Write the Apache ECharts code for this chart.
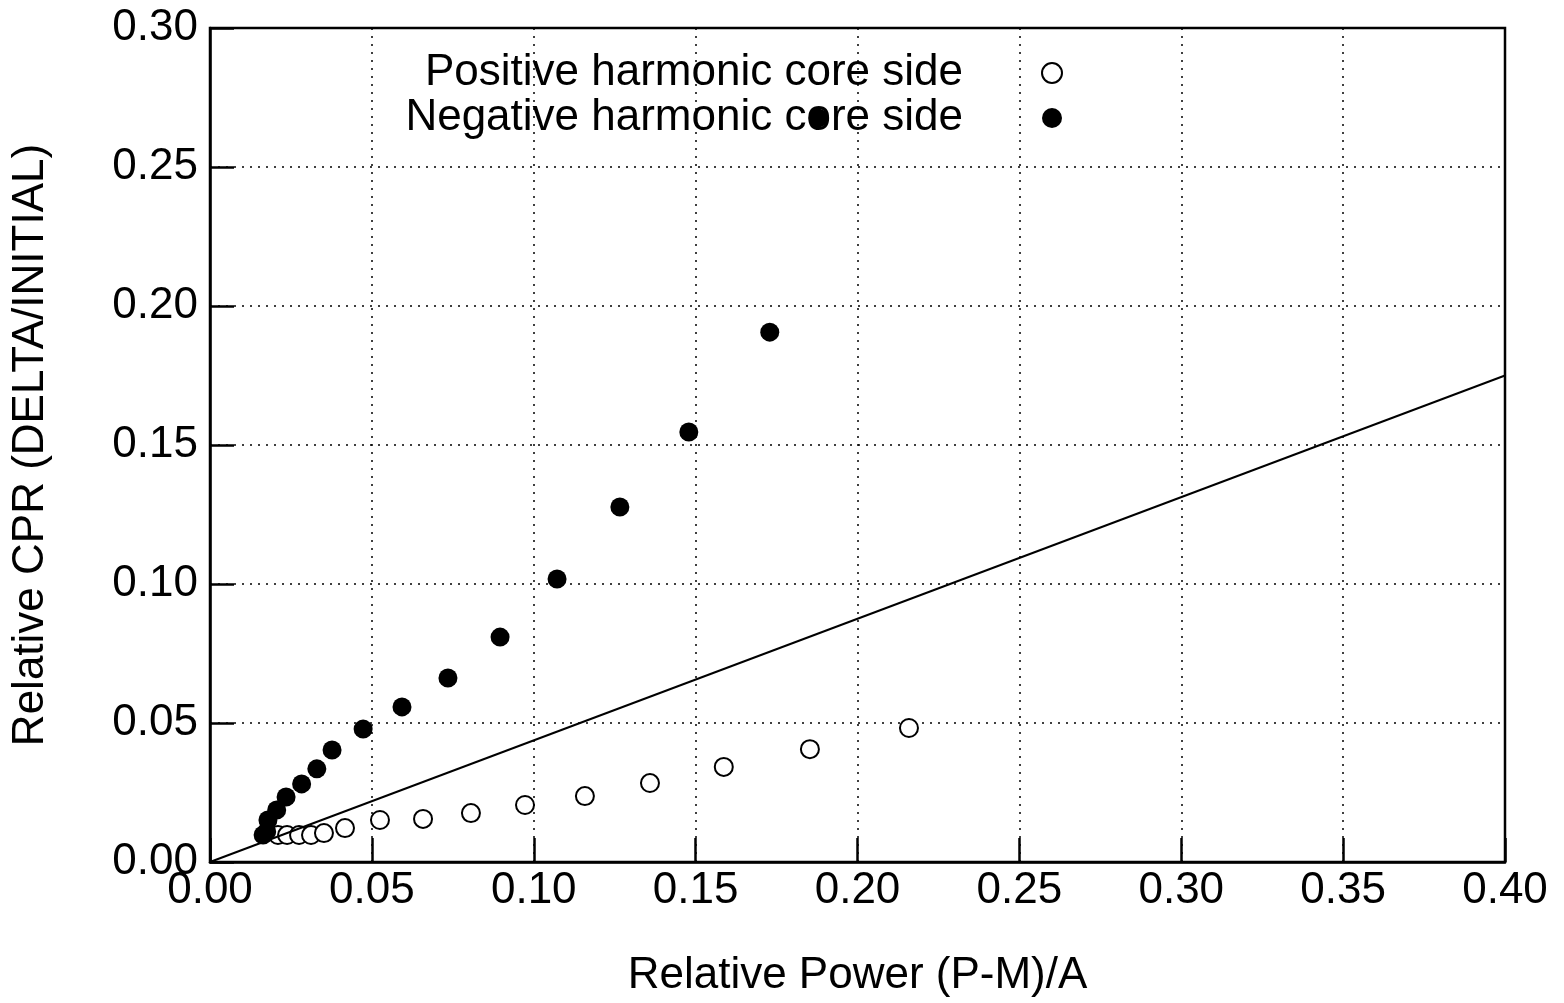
<!DOCTYPE html>
<html>
<head>
<meta charset="UTF-8">
<title>CPR</title>
<style type="text/css">
	body { margin: 0; background: #fff; }
</style>
<script type="text/javascript" src="https://cdn.jsdelivr.net/npm/echarts@6/dist/echarts.min.js"></script>
</head>
<body>
	<div id="main" style="width: 1564px; height: 1003px;"></div>
<script type="text/javascript">
	// 正谐波（空心圆）
	var posX = [0.021, 0.0238, 0.0275, 0.0312, 0.0352, 0.0417, 0.0525, 0.0658, 0.0806, 0.0973, 0.1158, 0.1359, 0.1587, 0.1853, 0.2159];
	var posY = [0.0097, 0.0097, 0.0097, 0.0097, 0.0104, 0.0122, 0.0151, 0.0155, 0.0176, 0.0205, 0.0237, 0.0284, 0.0342, 0.0406, 0.0482];
	// 负谐波（实心圆）
	var negX = [0.0164, 0.0175, 0.0179, 0.0206, 0.0235, 0.0283, 0.0330, 0.0377, 0.0473, 0.0593, 0.0735, 0.0896, 0.1072, 0.1266, 0.1479, 0.1729, 0.1878];
	var negY = [0.0097, 0.0109, 0.0151, 0.0187, 0.0234, 0.0281, 0.0335, 0.0403, 0.0478, 0.0558, 0.0662, 0.0809, 0.1018, 0.1277, 0.1547, 0.1906, 0.2676];
	// 参考直线
	var lineX = [0.0, 0.40];
	var lineY = [0.0, 0.175];

	function zip(a, b) {
		var out = [];
		for (var i = 0; i < a.length; i++) out.push([a[i], b[i]]);
		return out;
	}

	var font = 'Liberation Sans';
	var fs = 44;
	var gridLine = { show: true, lineStyle: { color: '#000', type: [2, 6], width: 1.5 } };

	// 只画刻度的辅助轴：往里偏移 12px，刻度朝外画回边框，看起来就是朝内的刻度
	function tickAxis(pos, min, max) {
		return {
			type: 'value', position: pos, offset: -12,
			min: min, max: max, interval: 0.05,
			axisLine: { show: false },
			axisTick: { show: true, length: 12, lineStyle: { color: '#000', width: 2.5 } },
			axisLabel: { show: false },
			splitLine: { show: false }
		};
	}

	var mychar = echarts.init(document.getElementById('main'));

	var option = {
		backgroundColor: '#fff',
		animation: false,
		textStyle: { fontFamily: font, color: '#000' },
		grid: { left: 210, right: 59, top: 28, bottom: 138, show: true, borderColor: '#000', borderWidth: 2.5, backgroundColor: 'transparent' },
		legend: {
			orient: 'vertical',
			right: 496,
			top: 46,
			align: 'right',
			itemGap: 1,
			itemWidth: 20,
			itemHeight: 20,
			textStyle: { fontSize: fs, color: '#000', fontFamily: font, padding: [0, 74, 0, 0] },
			data: ['Positive harmonic core side', 'Negative harmonic core side']
		},
		xAxis: [{
			type: 'value',
			min: 0, max: 0.4, interval: 0.05,
			name: 'Relative Power (P-M)/A',
			nameLocation: 'middle',
			nameGap: 92,
			nameTextStyle: { fontSize: fs, color: '#000' },
			axisLine: { onZero: false, lineStyle: { color: '#000', width: 2.5 } },
			axisTick: { show: false },
			axisLabel: { fontSize: fs, color: '#000', margin: 7, formatter: function (v) { return v.toFixed(2); } },
			splitLine: gridLine
		}, tickAxis('bottom', 0, 0.4), tickAxis('top', 0, 0.4)],
		yAxis: [{
			type: 'value',
			min: 0, max: 0.3, interval: 0.05,
			name: 'Relative CPR (DELTA/INITIAL)',
			nameLocation: 'middle',
			nameGap: 157,
			nameTextStyle: { fontSize: fs, color: '#000' },
			axisLine: { show: true, onZero: false, lineStyle: { color: '#000', width: 2.5 } },
			axisTick: { show: false },
			axisLabel: { fontSize: fs, color: '#000', margin: 12, formatter: function (v) { return v.toFixed(2); } },
			splitLine: gridLine
		}, tickAxis('left', 0, 0.3), tickAxis('right', 0, 0.3)],
		series: [{
			type: 'line',
			data: zip(lineX, lineY),
			symbol: 'none',
			lineStyle: { color: '#000', width: 2 },
			silent: true
		}, {
			name: 'Positive harmonic core side',
			type: 'scatter',
			data: zip(posX, posY),
			symbol: 'circle',
			symbolSize: 18,
			itemStyle: { color: '#fff', borderColor: '#000', borderWidth: 2, opacity: 1 }
		}, {
			name: 'Negative harmonic core side',
			type: 'scatter',
			data: zip(negX, negY),
			symbol: 'circle',
			symbolSize: 19,
			itemStyle: { color: '#000', opacity: 1 }
		}]
	};
	mychar.setOption(option);
</script>
</body>
</html>
